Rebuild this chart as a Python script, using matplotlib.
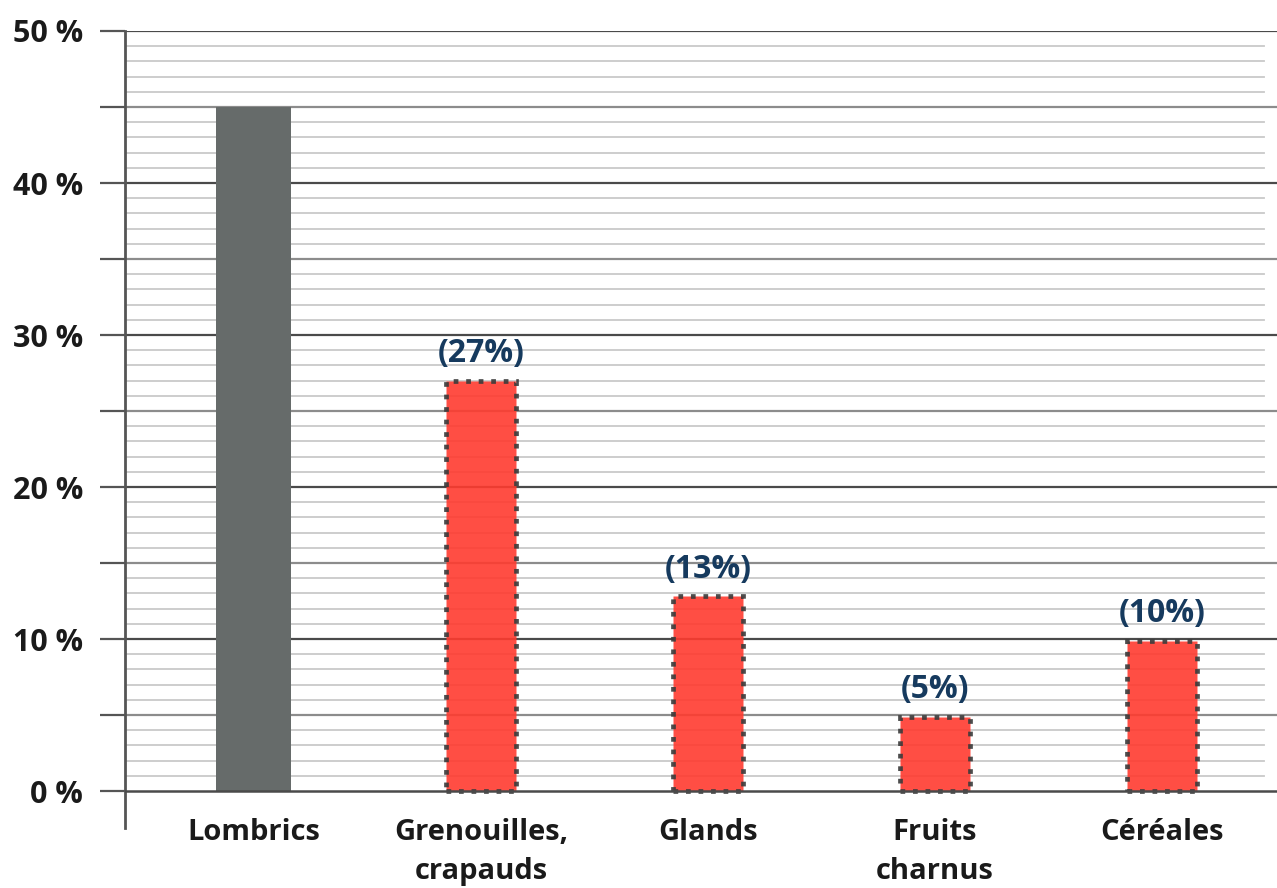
import numpy as np
import matplotlib.pyplot as plt

categories = ["Lombrics", "Grenouilles,\ncrapauds", "Glands", "Fruits\ncharnus", "Céréales"]
values = [45, 27, 12.8, 4.9, 9.9]
labels = ["", "(27%)", "(13%)", "(5%)", "(10%)"]
ytick_vals = [0, 10, 20, 30, 40, 50]
ytick_text = ["0 %", "10 %", "20 %", "30 %", "40 %", "50 %"]

plt.rcParams['font.family'] = ['Open Sans', 'DejaVu Sans']
plt.rcParams['font.weight'] = 'bold'

fig = plt.figure(figsize=(12.77, 8.88), dpi=100)
ax = fig.add_axes([125 / 1277, 1 - 828 / 888, 1 - 125 / 1277, (828 - 31) / 888])

x = np.arange(len(categories))
ax.set_xlim(-0.568, 4.507)
ax.set_ylim(-2.43, 50)

# minor grid every 1 %
for v in range(1, 50):
    if v % 5 != 0:
        ax.axhline(v, xmax=0.989, color="#c9c9c9", lw=1.3, zorder=0)
# major grid every 5 %
for v in range(5, 51, 5):
    c = "#4a4a4a" if v % 10 == 0 else "#8c8c8c"
    ax.axhline(v, color=c, lw=1.6, zorder=0.5)

colors = ["#666b6a"] + ["#ff3b2f"] * 4
for i in range(len(categories)):
    if i == 0:
        ax.bar(x[i], values[i], width=0.33, color=colors[i], zorder=2)
    else:
        ax.bar(x[i], values[i], width=0.31, color=colors[i], alpha=0.9,
               edgecolor="#3a3a3a", linestyle=":", linewidth=3.4, zorder=2)
        ax.text(x[i], values[i] + 0.7, labels[i], ha="center", va="bottom",
                fontsize=23, fontweight="bold", color="#163a5e", zorder=3)

ax.axhline(0, color="#4a4a4a", lw=1.8, zorder=3)

for i, c in enumerate(categories):
    ax.text(x[i], -1.75, c, ha="center", va="top", fontsize=21, fontweight="bold",
            color="#1a1a1a", linespacing=1.45)

ax.set_xticks([])
ax.set_yticks(range(0, 51, 5))
ax.set_yticklabels([ytick_text[ytick_vals.index(v)] if v in ytick_vals else "" for v in range(0, 51, 5)],
                   fontsize=22, fontweight="bold", color="#1a1a1a")
ax.tick_params(axis="y", length=18, width=1.6, color="#555555", pad=12)
for t, v in zip(ax.yaxis.get_major_ticks(), range(0, 51, 5)):
    if v % 10 != 0:
        t.tick1line.set_color("#8c8c8c")

for s in ["top", "right", "bottom"]:
    ax.spines[s].set_visible(False)
ax.spines["left"].set_color("#555555")
ax.spines["left"].set_linewidth(2)

fig.savefig("out.png", dpi=100)
